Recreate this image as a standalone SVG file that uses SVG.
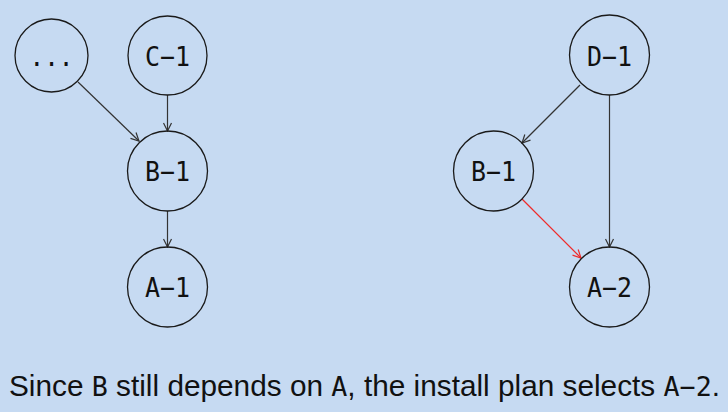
<svg xmlns="http://www.w3.org/2000/svg" width="728" height="412" viewBox="0 0 728 412">
<defs>
<style>
.node circle{fill:none;stroke:#1a1a1a;stroke-width:1.3}
.node text{font-family:"DejaVu Sans Mono",monospace;font-size:27px;fill:#111;text-anchor:middle}
.edge{fill:none;stroke:#333;stroke-width:1.2}
.red{stroke:#ee2b2b}
.cap{font-family:"Liberation Sans",Arial,sans-serif;font-size:29px;fill:#111}
.mono{font-family:"DejaVu Sans Mono",monospace;font-size:26px}
</style>
<marker id="ah" viewBox="0 0 10 10" refX="9" refY="5" markerWidth="10" markerHeight="10" markerUnits="userSpaceOnUse" orient="auto">
<path d="M1,1 L9,5 L1,9" fill="none" stroke="#333" stroke-width="1.2"/>
</marker>
<marker id="ahr" viewBox="0 0 10 10" refX="9" refY="5" markerWidth="10" markerHeight="10" markerUnits="userSpaceOnUse" orient="auto">
<path d="M1,1 L9,5 L1,9" fill="none" stroke="#ee2b2b" stroke-width="1.2"/>
</marker>
</defs>
<rect width="728" height="412" fill="#c6daf2"/>
<g id="edges">
<line class="edge" x1="78" y1="82" x2="139" y2="141" marker-end="url(#ah)"/>
<line class="edge" x1="167.5" y1="95" x2="167.5" y2="131" marker-end="url(#ah)"/>
<line class="edge" x1="167.5" y1="211" x2="167.5" y2="247" marker-end="url(#ah)"/>
<line class="edge" x1="580" y1="85" x2="522" y2="143" marker-end="url(#ah)"/>
<line class="edge" x1="609.5" y1="95" x2="609.5" y2="247" marker-end="url(#ah)"/>
<line class="edge red" x1="522" y1="199" x2="581" y2="258" marker-end="url(#ahr)"/>
</g>
<g id="n_dots" class="node"><circle cx="51.5" cy="55.5" r="36.5"/><text x="51.5" y="66" textLength="44" lengthAdjust="spacingAndGlyphs">...</text></g>
<g id="n_c1" class="node"><circle cx="167.5" cy="55.5" r="39.5"/><text x="167.5" y="65.5" textLength="45" lengthAdjust="spacingAndGlyphs">C−1</text></g>
<g id="n_b1" class="node"><circle cx="167.5" cy="171" r="40"/><text x="167.5" y="181" textLength="45" lengthAdjust="spacingAndGlyphs">B−1</text></g>
<g id="n_a1" class="node"><circle cx="167.5" cy="287" r="40"/><text x="167.5" y="297" textLength="45" lengthAdjust="spacingAndGlyphs">A−1</text></g>
<g id="n_d1" class="node"><circle cx="609.5" cy="55" r="40"/><text x="609.5" y="65.5" textLength="45" lengthAdjust="spacingAndGlyphs">D−1</text></g>
<g id="n_b1r" class="node"><circle cx="493.5" cy="171" r="40"/><text x="493.5" y="181" textLength="45" lengthAdjust="spacingAndGlyphs">B−1</text></g>
<g id="n_a2" class="node"><circle cx="609.5" cy="287" r="40"/><text x="609.5" y="297" textLength="45" lengthAdjust="spacingAndGlyphs">A−2</text></g>
<text class="cap" x="9" y="396" textLength="711" lengthAdjust="spacingAndGlyphs">Since <tspan class="mono">B</tspan> still depends on <tspan class="mono">A</tspan>, the install plan selects <tspan class="mono">A−2</tspan>.</text>
</svg>
